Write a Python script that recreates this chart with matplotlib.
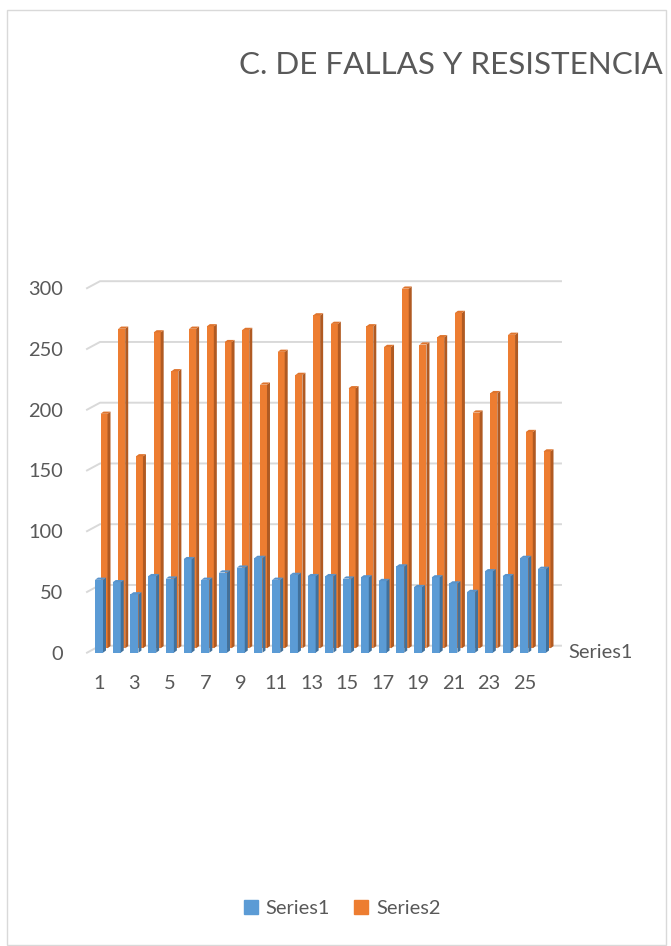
import matplotlib
matplotlib.use("Agg")
import matplotlib.pyplot as plt
from matplotlib.patches import Polygon, Rectangle, Patch

# data
categories = list(range(1, 27))
series1 = [60, 58, 48, 63, 61, 77, 60, 66, 70, 78, 60, 64, 63,
           63, 61, 62, 59, 71, 54, 62, 57, 50, 67, 63, 78, 69]
series2 = [193, 263, 158, 260, 228, 263, 265, 252, 262, 217, 244, 225, 274,
           267, 214, 265, 248, 296, 250, 256, 276, 194, 210, 258, 178, 162]
y_ticks = [0, 50, 100, 150, 200, 250, 300]
x_ticks = categories[::2]
title = "C. DE FALLAS Y RESISTENCIA"

BLUE, BLUE_SIDE, BLUE_TOP = "#5B9BD5", "#41719C", "#5893CB"
ORANGE, ORANGE_SIDE, ORANGE_TOP = "#ED7D31", "#B05A22", "#DE742D"
GRID = "#D9D9D9"
TEXT = "#595959"

plt.rcParams["font.family"] = ["Lato", "DejaVu Sans"]

W, H = 671, 946
fig = plt.figure(figsize=(W / 100, H / 100), dpi=100)

# front plane of the plot, in pixels
left, right = 87, 561
y_zero, y_top = 652.7, 288.2
ax = fig.add_axes([left / W, 1 - y_zero / H, (right - left) / W, (y_zero - y_top) / H])
first_px, step_px = 99, 17.72
x0 = 1 + (left - first_px) / step_px
x1 = 1 + (right - first_px) / step_px
ax.set_xlim(x0, x1)
ax.set_ylim(0, 300)
ux = 1 / step_px                 # data units per pixel
uy = 300 / (y_zero - y_top)

for s in ax.spines.values():
    s.set_visible(False)
ax.set_facecolor("none")

# back wall gridlines with the short slanted side-wall piece
for v in y_ticks:
    ax.plot([x0, x0 + 13 * ux, x1], [v, v + 7 * uy, v + 7 * uy],
            color=GRID, lw=1.4, zorder=0.5, clip_on=False)


def draw_bars(vals, w_px, dx_px, dy_px, face, side, top):
    w = w_px * ux
    bx = [c + dx_px * ux for c in categories]
    base = dy_px * uy
    ax.bar(bx, vals, width=w, bottom=base, color=face, linewidth=0, clip_on=False)
    ddx, ddy = 3 * ux, 2.2 * uy
    for x, v in zip(bx, vals):
        l, r, t = x - w / 2, x + w / 2, base + v
        ax.add_patch(Polygon([(r, base), (r + ddx, base + ddy), (r + ddx, t + ddy), (r, t)],
                             closed=True, color=side, lw=0, clip_on=False))
        ax.add_patch(Polygon([(l, t), (r, t), (r + ddx, t + ddy), (l + ddx, t + ddy)],
                             closed=True, color=top, lw=0, clip_on=False))


draw_bars(series2, 7, 5, 4.4, ORANGE, ORANGE_SIDE, ORANGE_TOP)
draw_bars(series1, 8, 0, 0, BLUE, BLUE_SIDE, BLUE_TOP)

ax.set_yticks(y_ticks)
ax.set_xticks(x_ticks)
ax.set_xticklabels([str(c) for c in x_ticks])
ax.tick_params(axis="y", length=0, labelsize=14.4, labelcolor=TEXT, pad=17)
ax.tick_params(axis="x", length=0, labelsize=14.4, labelcolor=TEXT, pad=16)

ax.text(x1 + 7 * ux, 0, "Series1", ha="left", va="center", fontsize=14.4, color=TEXT)

fig.text(451 / W, 1 - 65 / H, title, ha="center", va="center", fontsize=22.6, color=TEXT)

handles = [Patch(color=BLUE, label="Series1"), Patch(color=ORANGE, label="Series2")]
fig.legend(handles=handles, loc="center", bbox_to_anchor=(342 / W, 1 - 908 / H), ncol=2,
           frameon=False, handlelength=0.7, handleheight=0.7, handletextpad=0.4,
           columnspacing=1.2, fontsize=14.4, labelcolor=TEXT)

fig.add_artist(Rectangle((7 / W, 1 - 945 / H), (666 - 7) / W, (945 - 10) / H,
                         transform=fig.transFigure, fill=False, edgecolor=GRID, lw=1))

fig.savefig("out.png", dpi=100)
